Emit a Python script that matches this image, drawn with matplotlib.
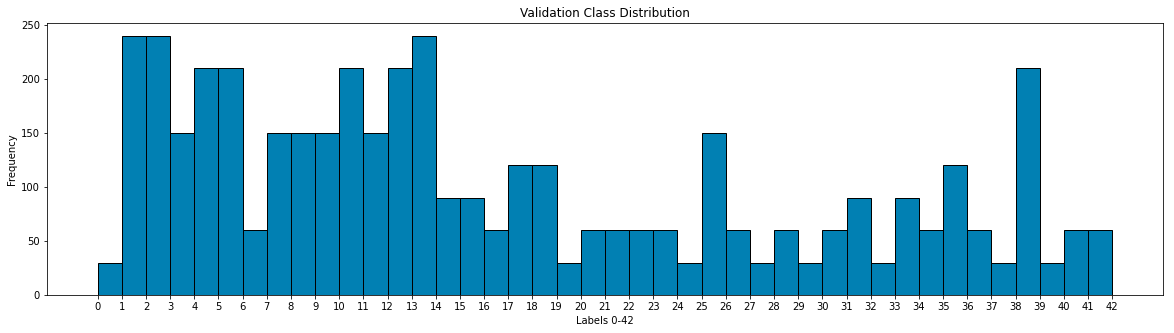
import numpy as np
import matplotlib
matplotlib.use("Agg")
import matplotlib.pyplot as plt

# class ids 0-42 and how many validation samples each one has
classes = list(range(43))
counts = [30, 240, 240, 150, 210, 210, 60, 150, 150, 150,
          210, 150, 210, 240, 90, 90, 60, 120, 120, 30,
          60, 60, 60, 60, 30, 150, 60, 30, 60, 30,
          60, 90, 30, 90, 60, 120, 60, 30, 210, 30,
          60, 30, 30]
bin_edges = list(range(43))

fig = plt.figure(figsize=(1174 / 72, 333 / 72), dpi=72)
ax = fig.add_axes([0.040, 0.114, 0.9506, 0.817])

ax.hist(classes, bins=bin_edges, weights=counts, color="#0180b3", edgecolor="black", linewidth=1)

ax.set_xticks(bin_edges)
ax.set_title("Validation Class Distribution")
ax.set_xlabel("Labels 0-42")
ax.set_ylabel("Frequency")

plt.savefig("out.png", dpi=72)
